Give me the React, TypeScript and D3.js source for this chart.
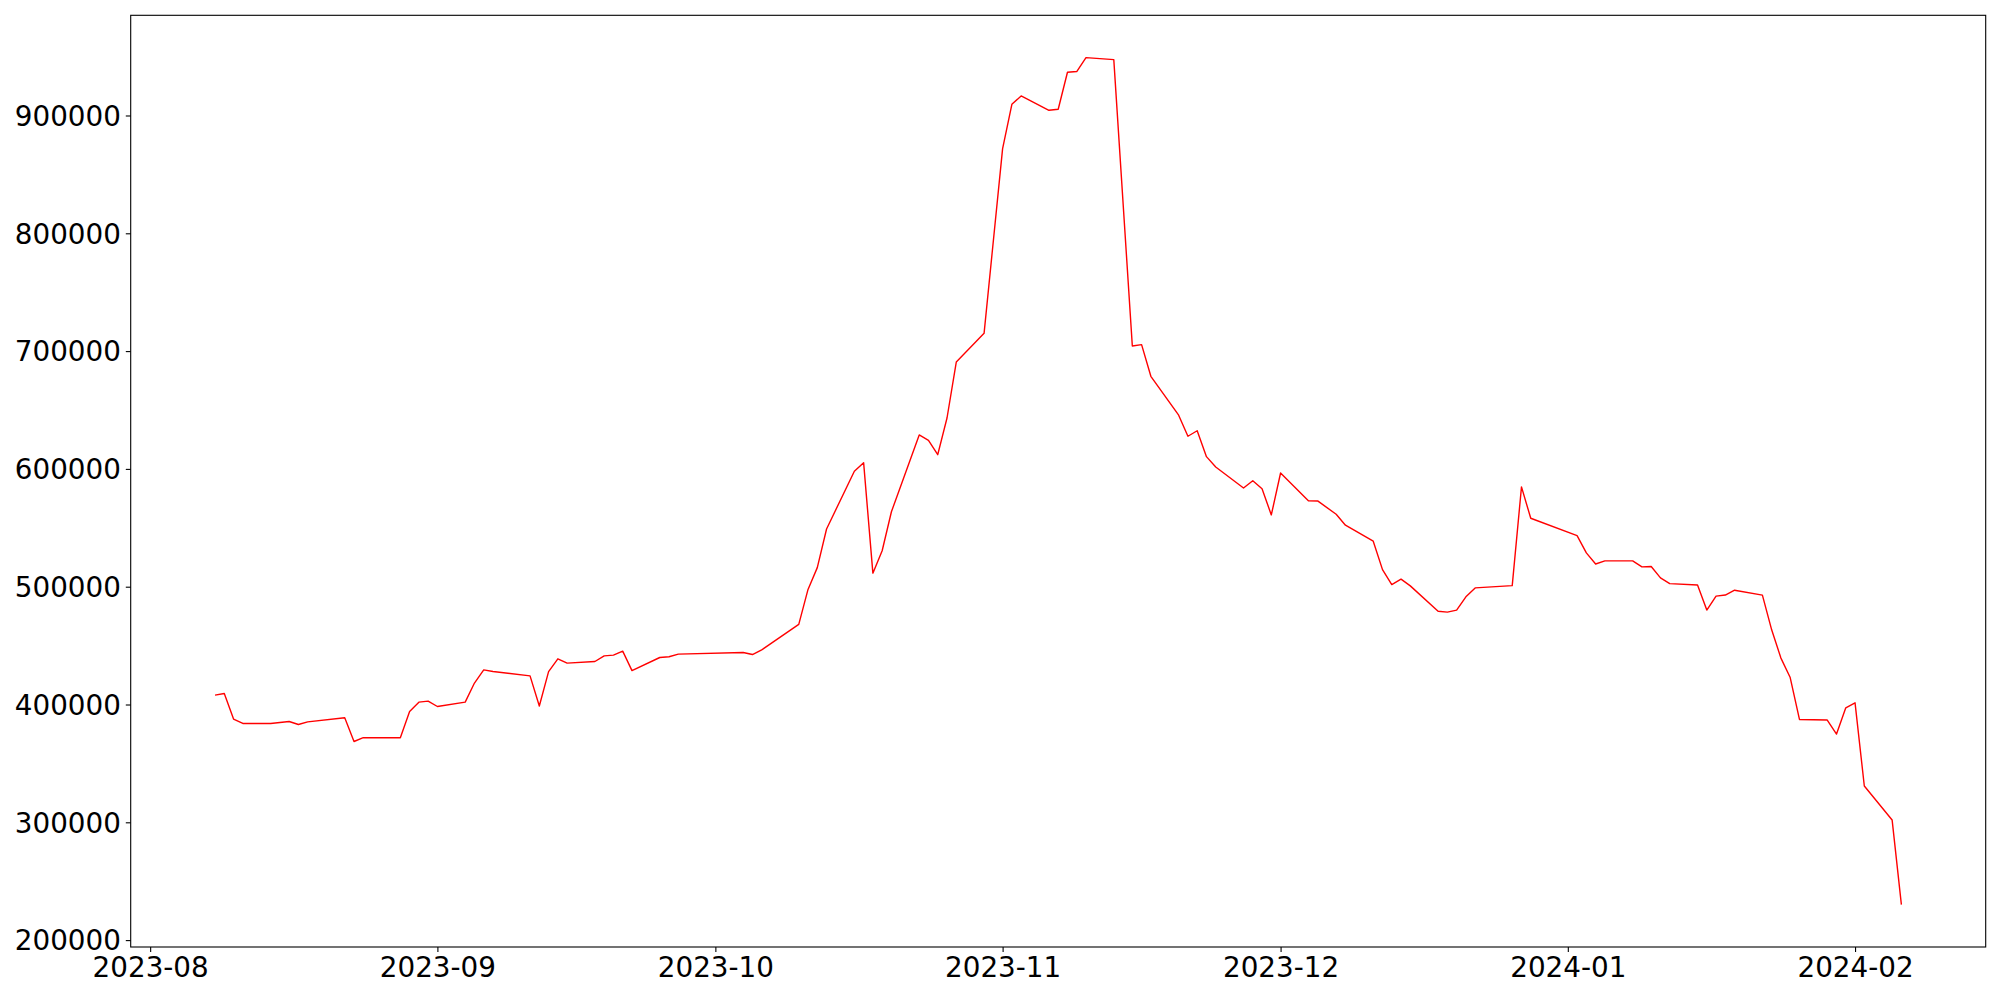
import React, { useRef, useEffect } from 'react';
import * as d3 from 'd3';

// trading days (vertices of the series)
const dates: string[] = [
  '2023-08-08', '2023-08-09', '2023-08-10', '2023-08-11', '2023-08-14', '2023-08-16', '2023-08-17', '2023-08-18',
  '2023-08-22', '2023-08-23', '2023-08-24', '2023-08-28', '2023-08-29', '2023-08-30', '2023-08-31', '2023-09-01',
  '2023-09-04', '2023-09-05', '2023-09-06', '2023-09-07', '2023-09-11', '2023-09-12', '2023-09-13', '2023-09-14',
  '2023-09-15', '2023-09-18', '2023-09-19', '2023-09-20', '2023-09-21', '2023-09-22', '2023-09-25', '2023-09-26',
  '2023-09-27', '2023-10-04', '2023-10-05', '2023-10-06', '2023-10-10', '2023-10-11', '2023-10-12', '2023-10-13',
  '2023-10-16', '2023-10-17', '2023-10-18', '2023-10-19', '2023-10-20', '2023-10-23', '2023-10-24', '2023-10-25',
  '2023-10-26', '2023-10-27', '2023-10-30', '2023-11-01', '2023-11-02', '2023-11-03', '2023-11-06', '2023-11-07',
  '2023-11-08', '2023-11-09', '2023-11-10', '2023-11-13', '2023-11-15', '2023-11-16', '2023-11-17', '2023-11-20',
  '2023-11-21', '2023-11-22', '2023-11-23', '2023-11-24', '2023-11-27', '2023-11-28', '2023-11-29', '2023-11-30',
  '2023-12-01', '2023-12-04', '2023-12-05', '2023-12-07', '2023-12-08', '2023-12-11', '2023-12-12', '2023-12-13',
  '2023-12-14', '2023-12-15', '2023-12-18', '2023-12-19', '2023-12-20', '2023-12-21', '2023-12-22', '2023-12-26',
  '2023-12-27', '2023-12-28', '2024-01-02', '2024-01-03', '2024-01-04', '2024-01-05', '2024-01-08', '2024-01-09',
  '2024-01-10', '2024-01-11', '2024-01-12', '2024-01-15', '2024-01-16', '2024-01-17', '2024-01-18', '2024-01-19',
  '2024-01-22', '2024-01-23', '2024-01-24', '2024-01-25', '2024-01-26', '2024-01-29', '2024-01-30', '2024-01-31',
  '2024-02-01', '2024-02-02', '2024-02-05', '2024-02-06',
];

const values: number[] = [
  408000, 409300, 387600, 383900, 383900, 385600, 383000, 385300,
  388700, 368600, 371800, 371800, 394100, 402000, 402900, 398300,
  402000, 418200, 429400, 428000, 424300, 398700, 427900, 438800,
  435100, 436500, 441300, 441900, 445300, 428800, 439900, 440500,
  442800, 444100, 442400, 446400, 468000, 497700, 516200, 549000,
  598000, 605300, 511500, 530500, 563600, 628800, 624300, 612100,
  643200, 690700, 715100, 871900, 909500, 916600, 904400, 905300,
  936700, 937300, 949100, 947400, 704300, 705500, 678600, 645600,
  627700, 632400, 610400, 601600, 583800, 590000, 583200, 560900,
  596500, 573000, 572800, 561500, 552200, 538600, 514500, 501800,
  506400, 500700, 479200, 478400, 480100, 491400, 499000, 500900,
  584700, 558100, 543400, 528700, 519300, 521900, 521900, 516800,
  517100, 507500, 502600, 501500, 480200, 492000, 492900, 497000,
  492800, 463400, 439400, 422900, 387300, 386800, 374900, 397200,
  401400, 330800, 302000, 230100,
];

const yTicks: number[] = [200000, 300000, 400000, 500000, 600000, 700000, 800000, 900000];

export default function App() {
  const svgRef = useRef<SVGSVGElement>(null);

  useEffect(() => {
    if (!svgRef.current) return;
    const svg = d3.select(svgRef.current);
    svg.selectAll('*').remove();

    const width = 2000;
    const height = 1000;
    const margin = { top: 15.3, right: 14.3, bottom: 53, left: 130.7 };
    const font = "'DejaVu Sans', sans-serif";
    const fontSize = '27.8px';

    const parse = d3.utcParse('%Y-%m-%d');
    const data = dates.map((d, i) => ({ date: parse(d) as Date, value: values[i] }));

    // matplotlib-like 5% margins
    const [t0, t1] = d3.extent(data, d => d.date) as [Date, Date];
    const span = +t1 - +t0;
    const x = d3.scaleUtc()
      .domain([new Date(+t0 - span * 0.05), new Date(+t1 + span * 0.05)])
      .range([margin.left, width - margin.right]);

    const [v0, v1] = d3.extent(data, d => d.value) as [number, number];
    const vs = v1 - v0;
    const y = d3.scaleLinear()
      .domain([v0 - vs * 0.05, v1 + vs * 0.05])
      .range([height - margin.bottom, margin.top]);

    svg.append('rect')
      .attr('width', width)
      .attr('height', height)
      .attr('fill', '#ffffff');

    // line
    const line = d3.line<{ date: Date; value: number }>()
      .x(d => x(d.date))
      .y(d => y(d.value));

    svg.append('path')
      .datum(data)
      .attr('fill', 'none')
      .attr('stroke', '#ff0000')
      .attr('stroke-width', 1.4)
      .attr('stroke-linejoin', 'round')
      .attr('d', line);

    // X axis
    svg.append('g')
      .attr('transform', `translate(0,${height - margin.bottom})`)
      .call(d3.axisBottom(x)
        .ticks(d3.utcMonth.every(1))
        .tickFormat(d => d3.utcFormat('%Y-%m')(d as Date))
        .tickSize(4.9)
        .tickPadding(4.9)
        .tickSizeOuter(0))
      .call(g => g.select('.domain').remove())
      .call(g => g.selectAll('.tick line').attr('stroke', '#000').attr('stroke-width', 1.1))
      .call(g => g.selectAll('.tick text')
        .attr('fill', '#000')
        .style('font-size', fontSize)
        .style('font-family', font));

    // Y axis
    svg.append('g')
      .attr('transform', `translate(${margin.left},0)`)
      .call(d3.axisLeft(y)
        .tickValues(yTicks)
        .tickFormat(d3.format('d'))
        .tickSize(4.9)
        .tickPadding(4.9)
        .tickSizeOuter(0))
      .call(g => g.select('.domain').remove())
      .call(g => g.selectAll('.tick line').attr('stroke', '#000').attr('stroke-width', 1.1))
      .call(g => g.selectAll('.tick text')
        .attr('fill', '#000')
        .attr('dy', '0.35em')
        .style('font-size', fontSize)
        .style('font-family', font));

    // frame
    svg.append('rect')
      .attr('x', margin.left)
      .attr('y', margin.top)
      .attr('width', width - margin.left - margin.right)
      .attr('height', height - margin.top - margin.bottom)
      .attr('fill', 'none')
      .attr('stroke', '#000')
      .attr('stroke-width', 1.1);
  }, []);

  return (
    <svg
      ref={svgRef}
      width={2000}
      height={1000}
      style={{ position: 'absolute', left: 0, top: 0, display: 'block' }}
    />
  );
}
